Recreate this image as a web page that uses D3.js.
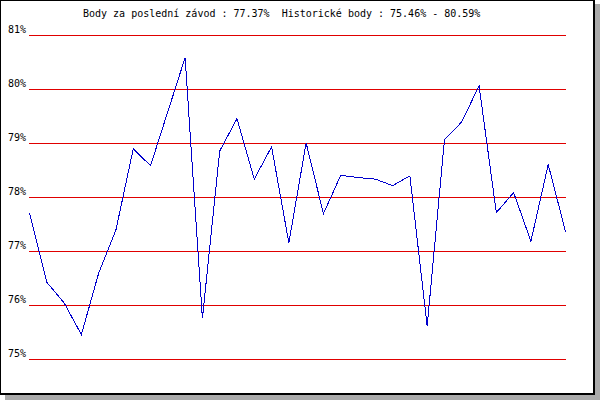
<!DOCTYPE html>
<html>
<head>
<meta charset="utf-8">
<script src="https://cdn.jsdelivr.net/npm/d3@7"></script>
<style>
    html, body { margin: 0; padding: 0; background: #fff; }
    svg { display: block; }
    text { font-family: "DejaVu Sans Mono", monospace; font-size: 10px; fill: #000; }
</style>
</head>
<body>
<div id="chart"></div>
<script>
// points per race, in order
const values = [
    77.72, 76.43, 76.05, 75.46, 76.60, 77.40, 78.90, 78.59,
    79.59, 80.59, 75.76, 78.86, 79.46, 78.34, 78.94, 77.16,
    79.01, 77.70, 78.41, 78.37, 78.34, 78.22, 78.40, 75.62,
    79.07, 79.40, 80.07, 77.72, 78.09, 77.19, 78.61, 77.37
];
const yTicks = [75, 76, 77, 78, 79, 80, 81];
const title = 'Body za poslední závod : 77.37%  Historické body : 75.46% - 80.59%';

(function () {
    const W = 600, H = 400;
    const svg = d3.select('#chart').append('svg').attr('width', W).attr('height', H);

    // frame with drop shadow
    svg.append('rect').attr('x', 5).attr('y', 4).attr('width', W - 5).attr('height', H - 4).attr('fill', '#aaaaaa');
    svg.append('rect').attr('x', 0).attr('y', 0).attr('width', 595).attr('height', 395).attr('fill', '#fff');
    const frame = svg.append('g').attr('stroke', '#000').attr('shape-rendering', 'crispEdges');
    frame.append('line').attr('x1', 0).attr('x2', 595).attr('y1', 0.5).attr('y2', 0.5).attr('stroke-width', 1);
    frame.append('line').attr('x1', 0.5).attr('x2', 0.5).attr('y1', 0).attr('y2', 395).attr('stroke-width', 1);
    frame.append('line').attr('x1', 594.3).attr('x2', 594.3).attr('y1', 0).attr('y2', 395.3).attr('stroke-width', 2);
    frame.append('line').attr('x1', 0).attr('x2', 595.3).attr('y1', 394.3).attr('y2', 394.3).attr('stroke-width', 2);

    const x = d3.scaleLinear().domain([0, values.length - 1]).range([29.5, 565.5]);
    const y = d3.scaleLinear().domain([75, 81]).range([359.5, 35.5]);

    // red grid + labels
    const yAxis = d3.axisLeft(y).tickValues(yTicks).tickFormat(d => d + '%').tickSize(0).tickPadding(3);
    const ax = svg.append('g').attr('transform', 'translate(29,0)').call(yAxis);
    ax.select('.domain').remove();
    ax.selectAll('text').attr('dy', '-0.3em').style('font-size', '10px');

    svg.append('g').selectAll('line').data(yTicks).enter().append('line')
        .attr('x1', 29).attr('x2', 566)
        .attr('y1', d => y(d)).attr('y2', d => y(d))
        .attr('stroke', '#e00000').attr('stroke-width', 1)
        .attr('shape-rendering', 'crispEdges');

    const line = d3.line().x((d, i) => x(i)).y(d => y(d));
    svg.append('path').datum(values)
        .attr('d', line)
        .attr('fill', 'none')
        .attr('stroke', '#0000cc')
        .attr('stroke-width', 1)
        .attr('shape-rendering', 'crispEdges');

    svg.append('text').attr('x', 83).attr('y', 17)
        .style('white-space', 'pre')
        .text(title);
})();
</script>
</body>
</html>
